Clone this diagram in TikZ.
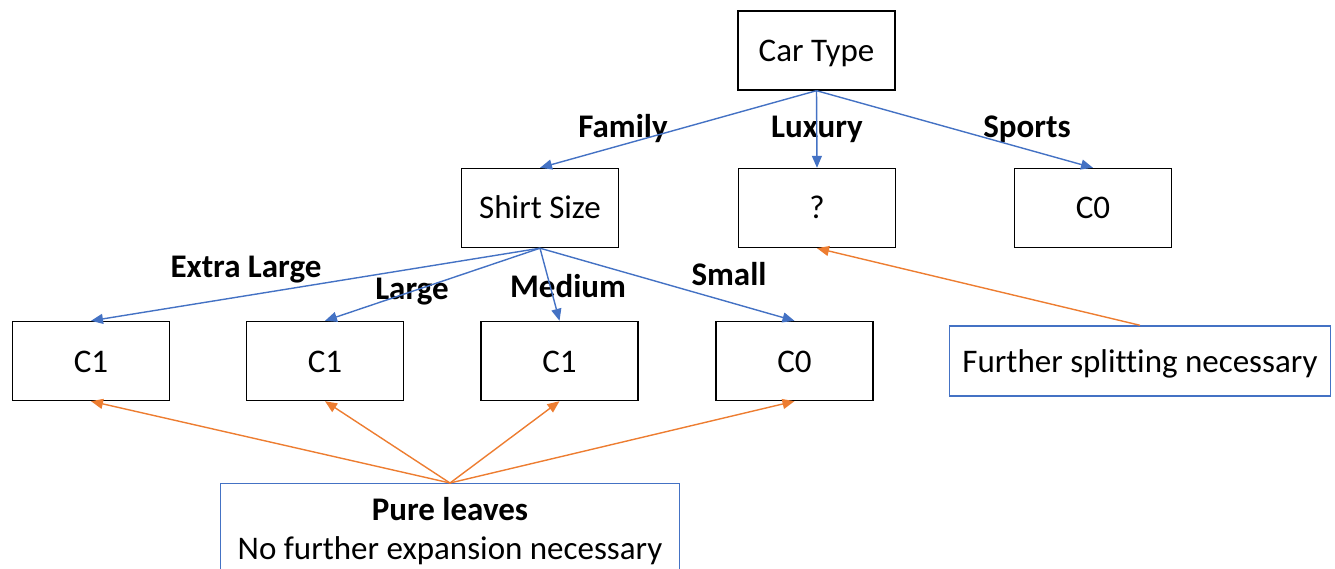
\documentclass[tikz,border=0pt]{standalone}
\usepackage{fontspec}
\setmainfont[Ligatures=NoCommon]{Carlito}
\usetikzlibrary{arrows.meta}
\definecolor{edgeblue}{HTML}{4472C4}
\definecolor{noteorange}{HTML}{ED7D31}
\tikzset{
  txt/.style={font=\fontsize{33}{39}\selectfont, text height=22pt, text depth=0pt},
  treebox/.style={txt, draw=black, line width=1.4pt, minimum width=157pt, minimum height=79pt,
    inner sep=0pt},
  notebox/.style={txt, draw=edgeblue, line width=1.4pt, inner sep=0pt},
  branch/.style={txt, font=\fontsize{33}{39}\selectfont\bfseries, inner sep=0pt},
  split/.style={draw=edgeblue, line width=1.4pt, -{Triangle[length=12pt,width=10pt]}},
  hint/.style={draw=noteorange, line width=1.4pt, -{Triangle[length=12pt,width=10pt]}},
}
\begin{document}
\begin{tikzpicture}[x=1pt, y=-1pt]
  \useasboundingbox (0,0) rectangle (1335,569);
  % decision nodes
  \node[treebox] (car) at (816.5,50.5) {Car Type};
  \node[treebox] (shirt) at (540,208) {Shirt Size};
  \node[treebox] (q) at (817,208) {?};
  \node[treebox] (c0top) at (1093,208) {C0};
  \node[treebox] (l1) at (91,361) {C1};
  \node[treebox] (l2) at (325,361) {C1};
  \node[treebox] (l3) at (559.5,361) {C1};
  \node[treebox] (l4) at (794.5,361) {C0};
  % annotations
  \node[notebox, minimum width=381pt, minimum height=70pt] (further) at (1140,361) {Further splitting necessary};
  \node[notebox, minimum width=459pt, minimum height=120pt, anchor=north] (pure) at (450,483) {};
  \node[branch] (puret) at (450,509) {Pure leaves};
  \node[txt, inner sep=0pt] (pureb) at (450,548) {No further expansion necessary};
  % branch labels
  \node[branch] (lfam) at (623,127) {Family};
  \node[branch] (llux) at (817,127) {Luxury};
  \node[branch] (lspo) at (1027,127) {Sports};
  \node[branch] (lxl) at (246,266) {Extra Large};
  \node[branch] (llg) at (412,288) {Large};
  \node[branch] (lmd) at (568,286) {Medium};
  \node[branch] (lsm) at (729,274) {Small};
  % tree edges
  \draw[split] (car.south) -- (shirt.north);
  \draw[split] (car.south) -- (q.north);
  \draw[split] (car.south) -- (c0top.north);
  \draw[split] (shirt.south) -- (l1.north);
  \draw[split] (shirt.south) -- (l2.north);
  \draw[split] (shirt.south) -- (l3.north);
  \draw[split] (shirt.south) -- (l4.north);
  % annotation pointers
  \draw[hint] (pure.north) -- (l1.south);
  \draw[hint] (pure.north) -- (l2.south);
  \draw[hint] (pure.north) -- (l3.south);
  \draw[hint] (pure.north) -- (l4.south);
  \draw[hint] (further.north) -- (q.south);
\end{tikzpicture}
\end{document}
